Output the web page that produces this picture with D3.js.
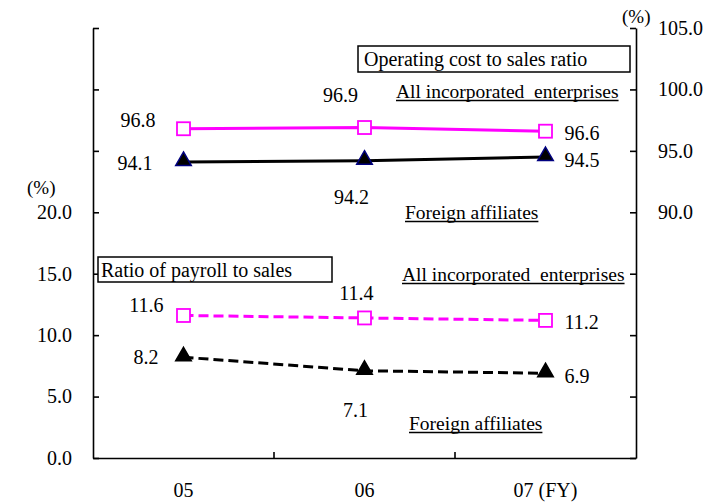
<!DOCTYPE html>
<html>
<head>
<meta charset="utf-8">
<script src="https://cdn.jsdelivr.net/npm/d3@7/dist/d3.min.js"></script>
<style>
  html, body { margin: 0; padding: 0; background: #fff; }
  svg { display: block; }
  text { font-family: "Liberation Serif", "Times New Roman", serif; fill: #000; }
</style>
</head>
<body>
<svg id="chart" width="706" height="503"></svg>
<script>
// Fiscal years on the category axis
const years = ["05", "06", "07"];
const yearLabels = ["05", "06", "07 (FY)"];

// Operating cost to sales ratio (right axis, %)
const opCostAll = [96.8, 96.9, 96.6];
const opCostForeign = [94.1, 94.2, 94.5];

// Ratio of payroll to sales (left axis, %)
const payrollAll = [11.6, 11.4, 11.2];
const payrollForeign = [8.2, 7.1, 6.9];

// Axis ticks
const leftTicks = [0, 5, 10, 15, 20, 25, 30, 35];
const leftTickLabels = ["0.0", "5.0", "10.0", "15.0", "20.0", "", "", ""];
const rightTicks = [70, 75, 80, 85, 90, 95, 100, 105];
const rightTickLabels = ["", "", "", "", "90.0", "95.0", "100.0", "105.0"];

const FS = 20;
const svg = d3.select("#chart");

const plot = { left: 93, right: 636, top: 28, bottom: 458 };

const x = d3.scaleBand().domain(years).range([plot.left, plot.right]);
const cx = d => x(d) + x.bandwidth() / 2;
const yL = d3.scaleLinear().domain([0, 35]).range([plot.bottom, plot.top]);
const yR = d3.scaleLinear().domain([70, 105]).range([plot.bottom, plot.top]);

// ---- axes ----
const axisStyle = g => {
  g.selectAll("path.domain").attr("stroke", "#000").attr("stroke-width", 1.6);
  g.selectAll(".tick line").attr("stroke", "#000").attr("stroke-width", 1.6);
  g.selectAll("text").attr("font-size", FS).attr("font-family", "Liberation Serif, Times New Roman, serif");
};

svg.append("g")
  .attr("transform", `translate(${plot.left},0)`)
  .call(d3.axisLeft(yL).tickValues(leftTicks)
    .tickFormat((d, i) => leftTickLabels[i])
    .tickSizeInner(-6).tickSizeOuter(0).tickPadding(21))
  .call(axisStyle);

svg.append("g")
  .attr("transform", `translate(${plot.right},0)`)
  .call(d3.axisRight(yR).tickValues(rightTicks)
    .tickFormat((d, i) => rightTickLabels[i])
    .tickSizeInner(-6).tickSizeOuter(0).tickPadding(22))
  .call(axisStyle);

const xAxis = svg.append("g")
  .attr("transform", `translate(0,${plot.bottom})`)
  .call(d3.axisBottom(x).tickFormat((d, i) => yearLabels[i])
    .tickSize(0).tickPadding(25))
  .call(axisStyle);

// inward ticks on the boundaries between fiscal years
xAxis.selectAll("line.sep")
  .data(years.slice(1))
  .join("line")
  .attr("class", "sep")
  .attr("x1", d => x(d)).attr("x2", d => x(d))
  .attr("y1", 0).attr("y2", -6)
  .attr("stroke", "#000").attr("stroke-width", 1.6);

// unit labels
svg.append("text").attr("x", 27).attr("y", 194).attr("font-size", FS - 1).text("(%)");
svg.append("text").attr("x", 622).attr("y", 23).attr("font-size", FS - 1).text("(%)");

// ---- series ----
const magenta = "#FF00FF";
const series = [
  { values: opCostAll, y: yR, color: magenta, dash: null, marker: "square",
    labels: [["end", -28, -2], ["middle", -24, -26], ["start", 19, 9]] },
  { values: opCostForeign, y: yR, color: "#000", dash: null, marker: "triangle", markerStroke: "#000080",
    labels: [["end", -31, 8], ["middle", -13, 43], ["start", 19, 10]] },
  { values: payrollAll, y: yL, color: magenta, dash: "10,5", marker: "square",
    labels: [["end", -20, -3], ["middle", -8, -18], ["start", 19, 9]] },
  { values: payrollForeign, y: yL, color: "#000", dash: "10,5", marker: "triangle", markerStroke: "#000",
    labels: [["end", -25, 7], ["middle", -9, 46], ["start", 19, 10]] }
];

series.forEach(s => {
  const pts = years.map((yr, i) => ({ yr, v: s.values[i], lab: s.labels[i] }));
  const line = d3.line().x(d => cx(d.yr)).y(d => s.y(d.v));
  svg.append("path")
    .datum(pts)
    .attr("d", line)
    .attr("fill", "none")
    .attr("stroke", s.color)
    .attr("stroke-width", 3)
    .attr("stroke-dasharray", s.dash);

  if (s.marker === "square") {
    svg.selectAll(null).data(pts).join("rect")
      .attr("x", d => cx(d.yr) - 6.5).attr("y", d => s.y(d.v) - 6.5)
      .attr("width", 13).attr("height", 13)
      .attr("fill", "#fff").attr("stroke", magenta).attr("stroke-width", 1.8);
  } else {
    const tri = d3.symbol().type(d3.symbolTriangle).size(105);
    svg.selectAll(null).data(pts).join("path")
      .attr("d", tri)
      .attr("transform", d => `translate(${cx(d.yr)},${s.y(d.v) - 1})`)
      .attr("fill", "#000").attr("stroke", s.markerStroke).attr("stroke-width", 1.5);
  }

  svg.selectAll(null).data(pts).join("text")
    .attr("x", d => cx(d.yr) + d.lab[1])
    .attr("y", d => s.y(d.v) + d.lab[2])
    .attr("text-anchor", d => d.lab[0])
    .attr("font-size", FS)
    .text(d => d.v.toFixed(1));
});

// ---- boxed titles ----
function boxTitle(txt, bx, by, bw, bh, tx, ty) {
  svg.append("rect").attr("x", bx).attr("y", by).attr("width", bw).attr("height", bh)
    .attr("fill", "#fff").attr("stroke", "#000").attr("stroke-width", 1.5);
  svg.append("text").attr("x", tx).attr("y", ty).attr("font-size", FS).text(txt);
}
boxTitle("Operating cost to sales ratio", 358, 46, 272, 26, 364, 66);
boxTitle("Ratio of payroll to sales", 98, 257, 234, 25, 101, 277);

// ---- underlined series names ----
function underlined(txt, tx, ty) {
  const t = svg.append("text").attr("x", tx).attr("y", ty).attr("font-size", FS - 0.5)
    .attr("xml:space", "preserve").style("white-space", "pre").text(txt);
  const w = t.node().getComputedTextLength();
  svg.append("line").attr("x1", tx).attr("x2", tx + w)
    .attr("y1", ty + 2.5).attr("y2", ty + 2.5)
    .attr("stroke", "#000").attr("stroke-width", 1.3);
}
underlined("All incorporated  enterprises", 396, 98);
underlined("Foreign affiliates", 405, 219);
underlined("All incorporated  enterprises", 402, 281);
underlined("Foreign affiliates", 409, 430);
</script>
</body>
</html>
